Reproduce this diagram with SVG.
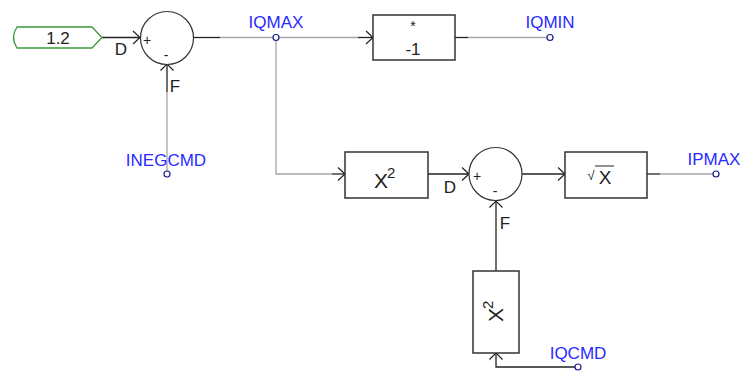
<svg xmlns="http://www.w3.org/2000/svg" width="745" height="371" viewBox="0 0 745 371">
<defs>
<style>
.blk{fill:#fff;stroke:#333;stroke-width:1.5}
.sum{fill:#fff;stroke:#333;stroke-width:1.2}
.w{fill:none;stroke:#a6a6a6;stroke-width:1.3}
.d{fill:none;stroke:#222;stroke-width:1.3}
.ah{fill:none;stroke:#222;stroke-width:1.2}
.lbl{font-family:"Liberation Sans",Arial,sans-serif;font-size:17px;fill:#2a2aff}
.t{font-family:"Liberation Sans",Arial,sans-serif;fill:#222}
.pt{fill:#fff;stroke:#1a1a8c;stroke-width:1.2}
</style>
</defs>
<g id="connectors">
<path class="d" d="M102,37.5 H140"/>
<path class="ah" d="M133,31 L140,37.5 L133,44"/>
<path class="d" d="M193,37.5 H220"/>
<path class="w" d="M220,37.5 H358"/>
<path class="d" d="M358,37.5 H373"/>
<path class="ah" d="M366,31 L373,37.5 L366,44"/>
<path class="d" d="M455,37.5 H468"/>
<path class="w" d="M468,37.5 H547"/>
<path class="w" d="M276,40 V174 H332"/>
<path class="d" d="M332,174 H345"/>
<path class="ah" d="M338,167.5 L345,174 L338,180.5"/>
<path class="d" d="M167,64 V92"/>
<path class="w" d="M167,92 V171"/>
<path class="ah" d="M160.5,70.5 L167,64 L173.5,70.5"/>
<path class="d" d="M428,174 H469"/>
<path class="ah" d="M462,167.5 L469,174 L462,180.5"/>
<path class="d" d="M522,174 H565"/>
<path class="ah" d="M558,167.5 L565,174 L558,180.5"/>
<path class="d" d="M647,174 H660"/>
<path class="w" d="M660,174 H713"/>
<path class="d" d="M496,271 V201"/>
<path class="ah" d="M489.5,207.5 L496,201 L502.5,207.5"/>
<path class="d" d="M496,353 V367 H575"/>
<path class="ah" d="M489.5,359.5 L496,353 L502.5,359.5"/>
</g>
<g id="const">
<path d="M17,27 H92 L102,37.5 L92,48 H17 Q10,37.5 17,27 Z" fill="#fff" stroke="#3c9a3c" stroke-width="1.3"/>
<text class="t" x="58" y="44" font-size="17" text-anchor="middle">1.2</text>
</g>
<g id="sum1">
<circle class="sum" cx="167" cy="38" r="26.5"/>
<text class="t" x="147" y="45" font-size="14" text-anchor="middle">+</text>
<text class="t" x="166" y="60" font-size="14" text-anchor="middle">-</text>
<text class="t" x="121" y="55" font-size="17" text-anchor="middle">D</text>
<text class="t" x="175" y="92" font-size="17" text-anchor="middle">F</text>
</g>
<g id="neg">
<rect class="blk" x="373" y="15" width="82" height="45"/>
<text class="t" x="413" y="31" font-size="14" text-anchor="middle">*</text>
<text class="t" x="413" y="55" font-size="17" text-anchor="middle">-1</text>
</g>
<g id="sq1">
<rect class="blk" x="345" y="152" width="83" height="46"/>
<text class="t" x="374" y="188" font-size="21">X<tspan font-size="15" dx="-1" dy="-10">2</tspan></text>
</g>
<g id="sum2">
<circle class="sum" cx="495.5" cy="174" r="26.5"/>
<text class="t" x="477" y="181" font-size="14" text-anchor="middle">+</text>
<text class="t" x="495" y="196" font-size="14" text-anchor="middle">-</text>
<text class="t" x="450" y="193" font-size="17" text-anchor="middle">D</text>
<text class="t" x="505" y="229" font-size="17" text-anchor="middle">F</text>
</g>
<g id="sqrt">
<rect class="blk" x="565" y="152" width="82" height="46"/>
<text class="t" x="591" y="180" font-size="13" text-anchor="middle">√</text>
<path d="M595,166 H614" stroke="#333" stroke-width="1.1"/>
<text class="t" x="605" y="184" font-size="19" text-anchor="middle">X</text>
</g>
<g id="sq2">
<rect class="blk" x="473" y="271" width="46" height="82"/>
<text class="t" transform="translate(503,322) rotate(-90)" font-size="21">X<tspan font-size="15" dx="-1" dy="-10">2</tspan></text>
</g>
<g id="IQMAX">
<circle class="pt" cx="276" cy="37.5" r="3"/>
<text class="lbl" x="276" y="28" text-anchor="middle">IQMAX</text>
</g>
<g id="IQMIN">
<circle class="pt" cx="550" cy="37.5" r="3"/>
<text class="lbl" x="550" y="28" text-anchor="middle">IQMIN</text>
</g>
<g id="INEGCMD">
<circle class="pt" cx="167" cy="174" r="3"/>
<text class="lbl" x="166" y="166" text-anchor="middle">INEGCMD</text>
</g>
<g id="IPMAX">
<circle class="pt" cx="716" cy="174" r="3"/>
<text class="lbl" x="714" y="165" text-anchor="middle">IPMAX</text>
</g>
<g id="IQCMD">
<circle class="pt" cx="578" cy="367" r="3"/>
<text class="lbl" x="578" y="359" text-anchor="middle">IQCMD</text>
</g>
</svg>
